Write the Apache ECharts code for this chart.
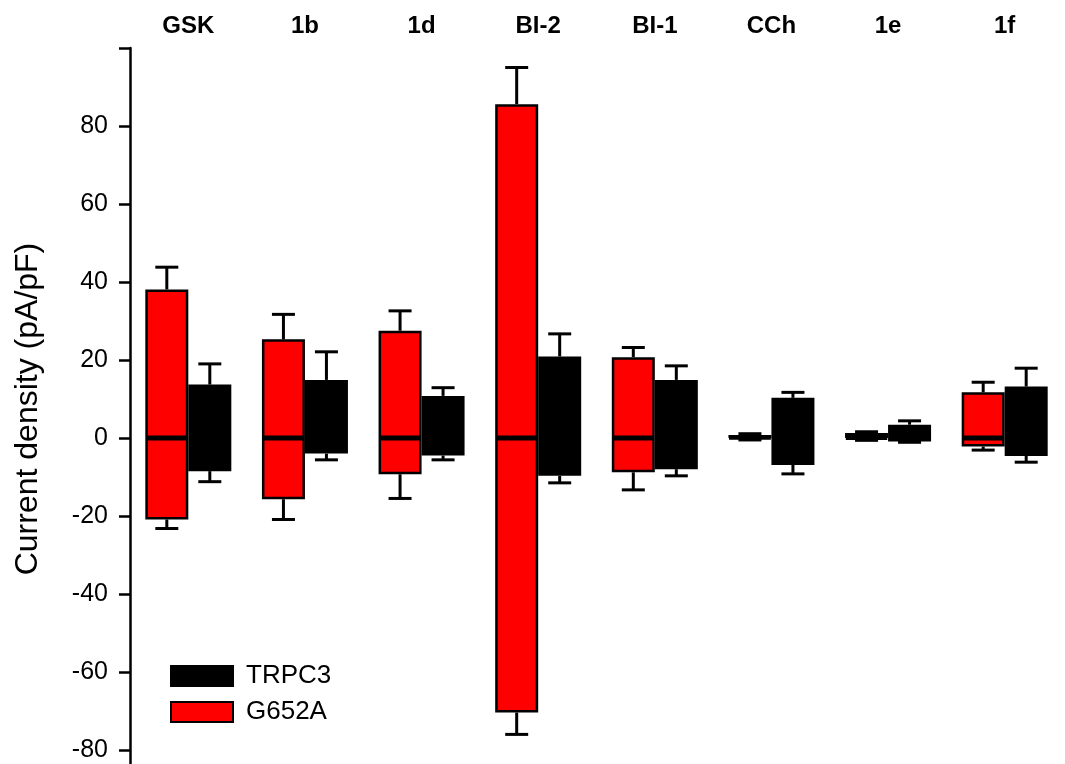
<!DOCTYPE html>
<html>
<head>
<meta charset="utf-8">
<script src="https://cdn.jsdelivr.net/npm/echarts@6/dist/echarts.min.js"></script>
<style>html,body{margin:0;padding:0;background:#fff;}#c{width:1065px;height:764px;}</style>
</head>
<body>
<div id="c"></div>
<script>
const categories = ['GSK', '1b', '1d', 'BI-2', 'BI-1', 'CCh', '1e', '1f'];
const g652aUp      = [38.1, 25.3, 27.5, 85.6, 20.7, 0.8, 1.3, 11.7];
const g652aUpSem   = [5.7, 6.4, 5.1, 9.4, 2.5, 0.3, 0.3, 2.6];
const g652aDown    = [-20.9, -15.7, -9.3, -70.4, -8.8, -0.3, -0.4, -2.2];
const g652aDownSem = [2.3, 5.2, 6.2, 5.6, 4.5, 0.2, 0.2, 0.9];
const trpc3Up      = [13.7, 14.9, 10.8, 20.9, 14.9, 10.3, 3.4, 13.2];
const trpc3UpSem   = [5.3, 7.2, 2.1, 5.8, 3.6, 1.4, 1.0, 4.7];
const trpc3Down    = [-8.5, -4.0, -4.5, -9.7, -8.0, -6.9, -0.9, -4.6];
const trpc3DownSem = [2.7, 1.6, 1.1, 1.8, 1.7, 2.3, 0.2, 1.6];
const yTicks = { min: -100, max: 100, interval: 20 };

const FONT = '"Liberation Sans", Arial, sans-serif';
const BAR_W = 43;

function errData(up, upSem, down, downSem) {
  const out = [];
  categories.forEach((c, i) => {
    out.push([i, up[i], up[i] + upSem[i]]);
    out.push([i, down[i], down[i] - downSem[i]]);
  });
  return out;
}
function errRender(off) {
  return function (params, api) {
    const i = api.value(0);
    const x = api.coord([i, 0])[0] + off;
    const y1 = api.coord([i, api.value(1)])[1];
    const y2 = api.coord([i, api.value(2)])[1];
    const st = { stroke: '#000', lineWidth: 3 };
    return {
      type: 'group',
      children: [
        { type: 'line', shape: { x1: x, y1: y1, x2: x, y2: y2 }, style: st },
        { type: 'line', shape: { x1: x - 11.5, y1: y2, x2: x + 11.5, y2: y2 }, style: st }
      ]
    };
  };
}

const chart = echarts.init(document.getElementById('c'));
const redStyle = { color: '#ff0000', borderColor: '#000', borderWidth: 2.5 };
const blackStyle = { color: '#000', borderColor: '#000', borderWidth: 2.5 };
chart.setOption({
  animation: false,
  backgroundColor: '#fff',
  textStyle: { fontFamily: FONT },
  grid: { left: 130, width: 933, top: 48, height: 780, containLabel: false, outerBoundsMode: 'none' },
  legend: {
    orient: 'vertical', left: 170, top: 663, padding: 0,
    itemWidth: 62, itemHeight: 20, itemGap: 10,
    icon: 'rect',
    data: ['TRPC3', 'G652A'],
    textStyle: { fontSize: 26, color: '#000', fontFamily: FONT, padding: [0, 0, 0, 8] }
  },
  graphic: [{
    type: 'text', x: 28, y: 409, rotation: Math.PI / 2,
    style: { text: 'Current density (pA/pF)', fontSize: 32, fontFamily: FONT, fill: '#000',
             textAlign: 'center', textVerticalAlign: 'middle' }
  }],
  xAxis: [{
    type: 'category', data: categories, position: 'top',
    axisLine: { show: false }, axisTick: { show: false },
    axisLabel: { fontSize: 24, fontWeight: 'bold', color: '#000', margin: 10, fontFamily: FONT, interval: 0 }
  }, {
    type: 'category', data: categories, position: 'bottom', z: 10,
    axisLine: { show: true, onZero: true, lineStyle: { color: '#000', width: 2 } },
    axisTick: { show: false }, axisLabel: { show: false }
  }],
  yAxis: {
    type: 'value', min: yTicks.min, max: yTicks.max, interval: yTicks.interval,
    splitLine: { show: false },
    axisLine: { show: true, onZero: false, lineStyle: { color: '#000', width: 2.5 } },
    axisTick: { show: true, inside: false, length: 11, lineStyle: { color: '#000', width: 2.5 } },
    axisLabel: { fontSize: 25, color: '#000', margin: 22, fontFamily: FONT,
                 formatter: v => (v === 100 || v === -100) ? '' : String(v) }
  },
  series: [
    { name: 'G652A', type: 'bar', stack: 'g', data: g652aUp, barWidth: BAR_W, barGap: '0%', itemStyle: redStyle, xAxisIndex: 0 },
    { name: 'G652A', type: 'bar', stack: 'g', data: g652aDown, barWidth: BAR_W, barGap: '0%', itemStyle: redStyle, xAxisIndex: 0 },
    { name: 'TRPC3', type: 'bar', stack: 't', data: trpc3Up, barWidth: BAR_W, barGap: '0%', itemStyle: blackStyle, xAxisIndex: 0 },
    { name: 'TRPC3', type: 'bar', stack: 't', data: trpc3Down, barWidth: BAR_W, barGap: '0%', itemStyle: blackStyle, xAxisIndex: 0 },
    { name: 'G652A err', type: 'custom', xAxisIndex: 0, renderItem: errRender(-BAR_W / 2),
      encode: { x: 0, y: [1, 2] }, data: errData(g652aUp, g652aUpSem, g652aDown, g652aDownSem), z: 1 },
    { name: 'TRPC3 err', type: 'custom', xAxisIndex: 0, renderItem: errRender(BAR_W / 2),
      encode: { x: 0, y: [1, 2] }, data: errData(trpc3Up, trpc3UpSem, trpc3Down, trpc3DownSem), z: 1 }
  ]
});
</script>
</body>
</html>
